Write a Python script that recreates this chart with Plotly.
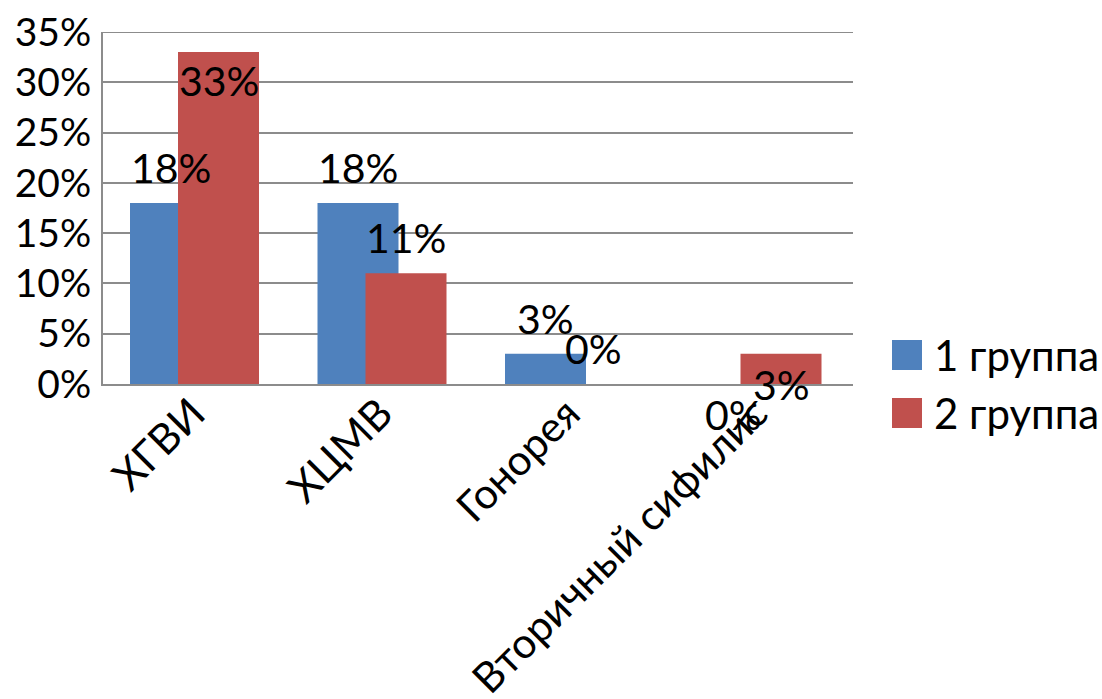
import plotly.graph_objects as go

categories = ["ХГВИ", "ХЦМВ", "Гонорея", "Вторичный сифилис"]
group1 = [0.18, 0.18, 0.03, 0.0]
group2 = [0.33, 0.11, 0.0, 0.03]
series_names = ["1 группа", "2 группа"]
colors = ["#4F81BD", "#C0504D"]
y_ticks = [0.0, 0.05, 0.10, 0.15, 0.20, 0.25, 0.30, 0.35]

FONT = "Lato, Carlito, 'DejaVu Sans', sans-serif"
FS_TICK = 39
FS_LABEL = 41
FS_CAT = 42
FS_LEG = 42
BAR_W = 0.432
OFFSETS = [-0.356, -0.10]

xs = list(range(len(categories)))
fig = go.Figure()
for vals, name, col, off in zip([group1, group2], series_names, colors, OFFSETS):
    fig.add_trace(go.Bar(x=xs, y=vals, name=name, marker=dict(color=col, line=dict(width=0)),
                         width=BAR_W, offset=off, showlegend=False))

# data labels (Excel-like placement)
label_style = {
    (0, 0): ("bottom", 9), (0, 1): ("top", -2),
    (1, 0): ("bottom", 9), (1, 1): ("bottom", 9),
    (2, 0): ("bottom", 9), (2, 1): ("bottom", 9),
    (3, 0): ("top", -4), (3, 1): ("top", -4),
}
for s, vals in enumerate([group1, group2]):
    for i, v in enumerate(vals):
        anchor, shift = label_style[(i, s)]
        fig.add_annotation(x=i + OFFSETS[s] + BAR_W / 2, y=v, xref="x", yref="y",
                           text=f"{round(v*100)}%", showarrow=False,
                           yanchor=anchor, yshift=shift,
                           font=dict(family=FONT, size=FS_LABEL, color="black"))

# top gridline (35%)
fig.add_shape(type="line", xref="paper", yref="y", x0=0, x1=1, y0=y_ticks[-1], y1=y_ticks[-1],
              line=dict(color="#8c8c8c", width=2), layer="below")

# manual legend
for k, (name, col) in enumerate(zip(series_names, colors)):
    yc = 355 + k * 58
    fig.add_shape(type="rect", xref="paper", yref="paper",
                  x0=(892 - 103) / 750, x1=(922 - 103) / 750,
                  y0=(384 - (yc + 15)) / 352, y1=(384 - (yc - 15)) / 352,
                  fillcolor=col, line=dict(width=0))
    fig.add_annotation(xref="paper", yref="paper", x=(932 - 103) / 750, y=(384 - yc) / 352,
                       text=name, showarrow=False, xanchor="left", yanchor="middle",
                       font=dict(family=FONT, size=FS_LEG, color="black"))

fig.update_layout(
    width=1102, height=699,
    margin=dict(l=103, r=249, t=32, b=315, autoexpand=False),
    paper_bgcolor="white", plot_bgcolor="white",
    barmode="overlay",
    font=dict(family=FONT, size=FS_TICK, color="black"),
    showlegend=False,
)
fig.update_xaxes(range=[-0.5, 3.5], tickmode="array", tickvals=xs, ticktext=categories,
                 tickangle=-45, showgrid=False, showline=True, linecolor="#8c8c8c", linewidth=2,
                 ticks="", tickfont=dict(family=FONT, size=FS_CAT, color="black"), zeroline=False,
                 automargin=False, ticklabelstandoff=-14, ticklabelshift=-4)
fig.update_yaxes(range=[0, 0.35], tickmode="array", tickvals=y_ticks,
                 ticktext=[f"{round(t*100)}%" for t in y_ticks],
                 showgrid=True, gridcolor="#8c8c8c", gridwidth=2,
                 showline=True, linecolor="#8c8c8c", linewidth=2, zeroline=False,
                 ticks="", ticklen=0, tickfont=dict(family=FONT, size=FS_TICK, color="black"),
                 automargin=False, ticklabelstandoff=2)

fig.write_html("out.html")
